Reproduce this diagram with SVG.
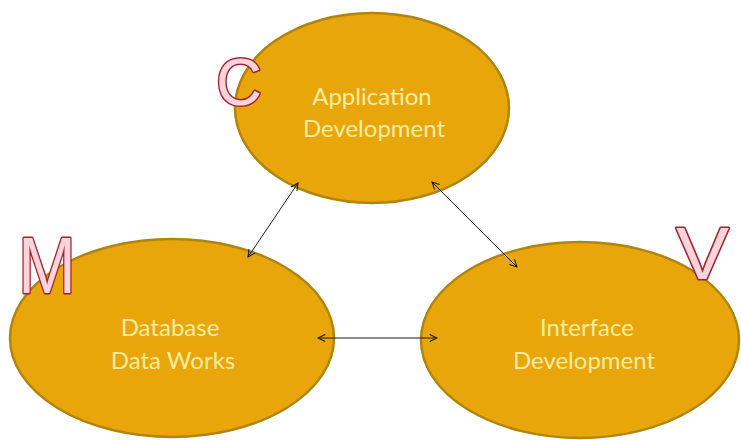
<svg xmlns="http://www.w3.org/2000/svg" width="741" height="440" viewBox="0 0 741 440">
<defs>
<style>
.node ellipse{fill:#E9A60B;stroke:#B0850F;stroke-width:2.5}
.lbl{font-family:Lato,"Open Sans","Liberation Sans",sans-serif;font-size:24px;fill:#F7EC9E;text-anchor:middle}
.big{font-family:"Liberation Sans",Arial,sans-serif;font-weight:normal;fill:#FAD4DC;stroke:#A8222E;stroke-width:3;paint-order:stroke;stroke-linejoin:round}
.conn line{stroke:#1a1a1a;stroke-width:1;marker-start:url(#ah);marker-end:url(#ah)}
</style>
<marker id="ah" viewBox="0 0 10 10" refX="9" refY="5" markerWidth="9" markerHeight="9" markerUnits="userSpaceOnUse" orient="auto-start-reverse">
<path d="M1,1 L9,5 L1,9" fill="none" stroke="#1a1a1a" stroke-width="1.2"/>
</marker>
</defs>
<rect width="741" height="440" fill="#ffffff"/>
<g id="node-app" class="node">
<ellipse cx="372" cy="108" rx="137" ry="95"/>
<text class="lbl" x="372" y="105">Application</text>
<text class="lbl" x="374" y="137">Development</text>
<text class="big" x="216" y="105" font-size="66" textLength="46" lengthAdjust="spacingAndGlyphs">C</text>
</g>
<g id="node-db" class="node">
<ellipse cx="172" cy="338" rx="162" ry="99"/>
<text class="lbl" x="170" y="336">Database</text>
<text class="lbl" x="173" y="369">Data Works</text>
<text class="big" x="18" y="293" font-size="80" textLength="58" lengthAdjust="spacingAndGlyphs">M</text>
</g>
<g id="node-ui" class="node">
<ellipse cx="580" cy="340" rx="159" ry="98"/>
<text class="lbl" x="587" y="336">Interface</text>
<text class="lbl" x="584" y="369">Development</text>
<text class="big" x="676" y="279" font-size="74" textLength="53" lengthAdjust="spacingAndGlyphs">V</text>
</g>
<g id="connectors" class="conn">
<line x1="298" y1="183" x2="248" y2="257"/>
<line x1="432" y1="182" x2="517" y2="267"/>
<line x1="318" y1="338" x2="437" y2="338"/>
</g>
</svg>
